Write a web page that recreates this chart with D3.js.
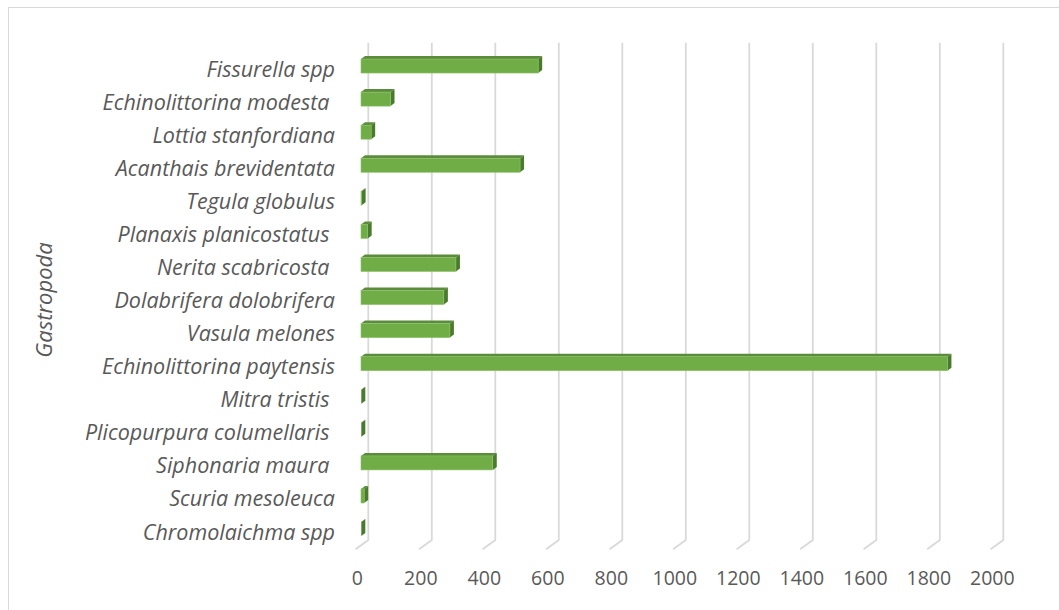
<!DOCTYPE html>
<html>
<head>
<meta charset="utf-8">
<script src="https://cdn.jsdelivr.net/npm/d3@7"></script>
<style>
  html, body { margin: 0; padding: 0; background: #ffffff; }
  svg { display: block; }
  text { font-family: "Open Sans", "Noto Sans", sans-serif; fill: #595959; }
</style>
</head>
<body>
<svg id="chart" width="1059" height="610"></svg>
<script>
// Species (top to bottom) and their counts
const categories = [
  "Fissurella spp",
  "Echinolittorina modesta ",
  "Lottia stanfordiana",
  "Acanthais brevidentata",
  "Tegula globulus",
  "Planaxis planicostatus ",
  "Nerita scabricosta ",
  "Dolabrifera dolobrifera",
  "Vasula melones",
  "Echinolittorina paytensis",
  "Mitra tristis ",
  "Plicopurpura columellaris ",
  "Siphonaria maura ",
  "Scuria mesoleuca",
  "Chromolaichma spp"
];
const values = [558, 93, 32, 501, 2, 21, 299, 261, 280, 1847, 1, 1, 415, 10, 1];
const tickValues = [0, 200, 400, 600, 800, 1000, 1200, 1400, 1600, 1800, 2000];
const axisTitle = "Gastropoda";

const svg = d3.select("#chart");

// Outer chart frame
svg.append("rect")
  .attr("x", 8.5).attr("y", 7.5)
  .attr("width", 1100).attr("height", 700)
  .attr("fill", "#ffffff").attr("stroke", "#d9d9d9").attr("stroke-width", 1);

// Oblique 3D layout: back wall, bar plane and front plane
const wallLeft = 368.3, wallTop = 42.7, wallBottom = 540;
const depth = { dx: -12.7, dy: 9.3 };          // back wall -> front edge of floor
const barLeft = 361;                              // bar front faces start here
const barDepth = { dx: 4, dy: -3 };               // bar front -> bar back
const barH = 14;

const x = d3.scaleLinear().domain([0, 2000]).range([0, 635]);
const y = d3.scaleBand().domain(categories).range([49.5, 545.6]).padding(0);

// Vertical gridlines on the back wall, with their floor tails
const grid = svg.append("g");
tickValues.forEach(v => {
  const gx = wallLeft + x(v);
  grid.append("path")
    .attr("d", `M${gx},${wallTop} L${gx},${wallBottom} L${gx + depth.dx},${wallBottom + depth.dy}`)
    .attr("fill", "none")
    .attr("stroke", "#d9d9d9")
    .attr("stroke-width", 1.8);
});

// Value axis labels along the front edge
const labelScale = d3.scaleLinear().domain([0, 2000])
  .range([wallLeft - 11.5, wallLeft - 11.5 + 635]);
const axis = d3.axisBottom(labelScale)
  .tickValues(tickValues).tickSize(0).tickPadding(0).tickFormat(d3.format("d"));
const ax = svg.append("g").attr("transform", "translate(0,571)").call(axis);
ax.select(".domain").remove();
ax.selectAll("text")
  .attr("fill", "#595959")
  .style("font-size", "19.5px")
  .style("font-family", "'Open Sans', sans-serif");

// 3D bars: front face, top face and right side face
const bars = svg.append("g");
categories.forEach((c, i) => {
  const cy = y(c) + y.bandwidth() / 2;
  const x0 = barLeft, x1 = barLeft + x(values[i]);
  const top = cy - barH / 2, bot = cy + barH / 2;
  const g = bars.append("g");
  g.append("path")
    .attr("d", `M${x0},${top} L${x1},${top} L${x1 + barDepth.dx},${top + barDepth.dy} L${x0 + barDepth.dx},${top + barDepth.dy} Z`)
    .attr("fill", "#5b8c3b");
  g.append("path")
    .attr("d", `M${x1},${top} L${x1 + barDepth.dx},${top + barDepth.dy} L${x1 + barDepth.dx},${bot + barDepth.dy} L${x1},${bot} Z`)
    .attr("fill", "#4a7a2d");
  if (x1 - x0 > 0.5) {
    g.append("rect")
      .attr("x", x0).attr("y", top)
      .attr("width", x1 - x0).attr("height", barH)
      .attr("fill", "#70ad47")
      .attr("stroke", "#8cc167").attr("stroke-width", 0.6);
  }
});

// Category labels
svg.append("g").selectAll("text")
  .data(categories)
  .join("text")
  .attr("x", 335)
  .attr("y", d => y(d) + y.bandwidth() / 2 + 10.5)
  .attr("text-anchor", "end")
  .style("font-size", "21.5px")
  .style("font-style", "italic")
  .style("white-space", "pre")
  .text(d => d);

// Axis title
svg.append("text")
  .attr("transform", "translate(46,300) rotate(-90)")
  .attr("text-anchor", "middle")
  .attr("dominant-baseline", "middle")
  .style("font-size", "22px")
  .style("font-style", "italic")
  .text(axisTitle);
</script>
</body>
</html>
